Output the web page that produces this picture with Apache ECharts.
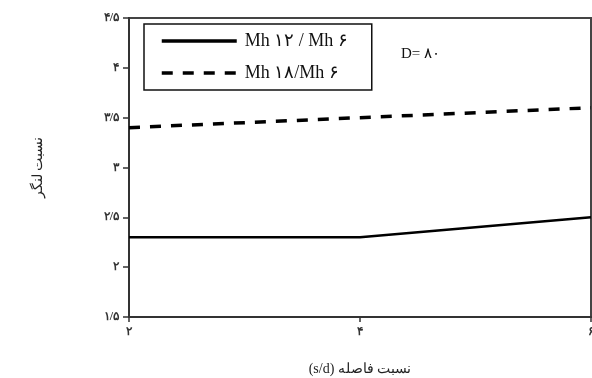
<!DOCTYPE html>
<html><head><meta charset="utf-8">
<script src="https://cdn.jsdelivr.net/npm/echarts@6/dist/echarts.min.js"></script>
<style>html,body{margin:0;padding:0;background:#fff}#c{width:592px;height:378px}</style>
</head><body><div id="c"></div>
<script>
const xValues = [2, 4, 6];
const seriesNames = ['Mh ۱۲ / Mh ۶', 'Mh ۱۸/Mh ۶'];
const mh12 = [2.3, 2.3, 2.5];
const mh18 = [3.4, 3.5, 3.6];
const yAxisName = 'نسبت لنگر';
const xAxisName = '(s/d) نسبت فاصله';
const annotation = 'D= ۸۰';

const fa = n => String(n).replace('.', '/').replace(/[0-9]/g, d => '۰۱۲۳۴۵۶۷۸۹'[d]);
const serif = '"Liberation Serif","DejaVu Serif",serif';
const chart = echarts.init(document.getElementById('c'));
chart.setOption({
  animation: false,
  backgroundColor: '#fff',
  grid: { left: 129, right: 1, top: 18, bottom: 61, show: true, borderColor: '#444', borderWidth: 2, outerBoundsMode: 'none', containLabel: false },
  xAxis: {
    type: 'value', min: 2, max: 6, interval: 2,
    name: xAxisName, nameLocation: 'middle', nameGap: 45,
    nameTextStyle: { fontFamily: serif, fontSize: 14, color: '#222' },
    axisLine: { lineStyle: { color: '#333', width: 2 } },
    axisTick: { show: true, length: 5, lineStyle: { color: '#333', width: 1.5 } },
    axisLabel: { formatter: v => fa(v), fontFamily: serif, fontSize: 12, fontWeight: 'bold', color: '#333', margin: 9 },
    splitLine: { show: false }
  },
  yAxis: {
    type: 'value', min: 1.5, max: 4.5, interval: 0.5,
    name: yAxisName, nameLocation: 'middle', nameGap: 84,
    nameTextStyle: { fontFamily: serif, fontSize: 14, color: '#222' },
    axisLine: { show: true, lineStyle: { color: '#333', width: 2 } },
    axisTick: { show: true, length: 6, lineStyle: { color: '#333', width: 1.5 } },
    axisLabel: { formatter: v => fa(v), fontFamily: serif, fontSize: 12, fontWeight: 'bold', color: '#333', margin: 10 },
    splitLine: { show: false }
  },
  legend: {
    orient: 'vertical', left: 144, top: 24,
    padding: [7, 24, 7, 16], itemGap: 12,
    itemWidth: 75, itemHeight: 14,
    borderColor: '#111', borderWidth: 1.5,
    itemStyle: { opacity: 0 },
    lineStyle: { width: 3.5 },
    textStyle: { fontFamily: serif, fontSize: 18, color: '#111', lineHeight: 20, padding: [0, 0, 0, 3] },
    data: seriesNames
  },
  graphic: [{
    type: 'text', left: 401, top: 47,
    style: { text: annotation, font: '15px ' + serif, fill: '#111' }
  }],
  series: [
    { name: seriesNames[0], type: 'line', symbol: 'none', data: xValues.map((x, i) => [x, mh12[i]]),
      lineStyle: { color: '#000', width: 2.5, type: 'solid' }, itemStyle: { color: '#000' } },
    { name: seriesNames[1], type: 'line', symbol: 'none', data: xValues.map((x, i) => [x, mh18[i]]),
      lineStyle: { color: '#000', width: 3.5, type: [11, 10] }, itemStyle: { color: '#000' } }
  ]
});
</script></body></html>
